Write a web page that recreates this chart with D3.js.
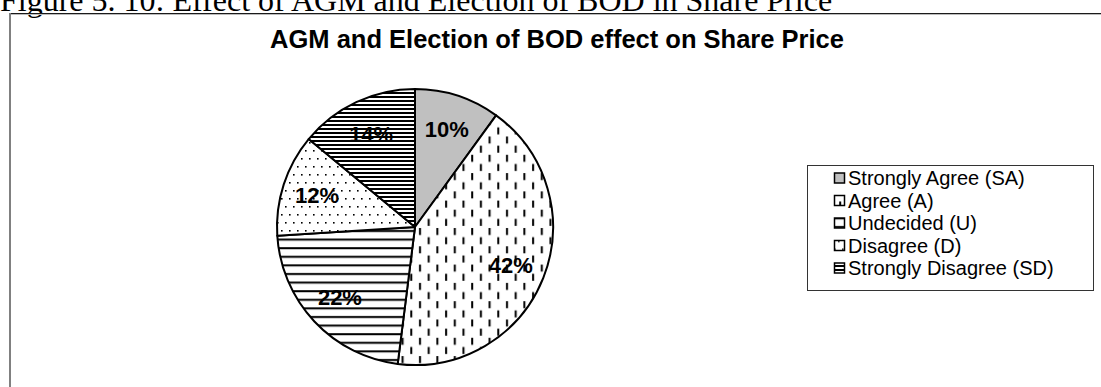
<!DOCTYPE html>
<html>
<head>
<meta charset="utf-8">
<script src="https://cdn.jsdelivr.net/npm/d3@7"></script>
<style>
  html, body { margin: 0; padding: 0; background: #fff; }
  svg { display: block; }
</style>
</head>
<body>
<svg id="chart" width="1101" height="387"></svg>
<script>
// Survey responses: AGM and Election of BOD effect on share price
const categories = ["Strongly Agree (SA)", "Agree (A)", "Undecided (U)", "Disagree (D)", "Strongly Disagree (SD)"];
const shares = [10, 42, 22, 12, 14];
const fills = ["url(#fillSA)", "url(#fillA)", "url(#fillU)", "url(#fillD)", "url(#fillSD)"];

const svg = d3.select("#chart");
const defs = svg.append("defs");

// Hatch fills for each response category
const pSA = defs.append("pattern").attr("id", "fillSA").attr("patternUnits", "userSpaceOnUse")
  .attr("width", 4).attr("height", 4);
pSA.append("rect").attr("width", 4).attr("height", 4).attr("fill", "#c0c0c0");

const pA = defs.append("pattern").attr("id", "fillA").attr("patternUnits", "userSpaceOnUse")
  .attr("width", 17.4).attr("height", 18.3);
pA.append("rect").attr("width", 17.4).attr("height", 18.3).attr("fill", "#fff");
pA.append("rect").attr("x", 4).attr("y", 1).attr("width", 2).attr("height", 7).attr("fill", "#000");
pA.append("rect").attr("x", 12.7).attr("y", 10.2).attr("width", 2).attr("height", 7).attr("fill", "#000");

const pU = defs.append("pattern").attr("id", "fillU").attr("patternUnits", "userSpaceOnUse")
  .attr("width", 8).attr("height", 8.6);
pU.append("rect").attr("width", 8).attr("height", 8.6).attr("fill", "#fff");
pU.append("rect").attr("y", 3).attr("width", 8).attr("height", 2).attr("fill", "#000");

const pD = defs.append("pattern").attr("id", "fillD").attr("patternUnits", "userSpaceOnUse")
  .attr("width", 16).attr("height", 16);
pD.append("rect").attr("width", 16).attr("height", 16).attr("fill", "#fff");
[[2, 3], [10, 3], [6, 11], [14, 11]].forEach(([x, y]) =>
  pD.append("rect").attr("x", x).attr("y", y).attr("width", 1.6).attr("height", 1.6).attr("fill", "#000"));

const pSD = defs.append("pattern").attr("id", "fillSD").attr("patternUnits", "userSpaceOnUse")
  .attr("width", 8).attr("height", 4);
pSD.append("rect").attr("width", 8).attr("height", 4).attr("fill", "#fff");
pSD.append("rect").attr("y", 1).attr("width", 8).attr("height", 2).attr("fill", "#000");

// Figure caption (sits above the chart frame)
svg.append("text")
  .attr("x", 0).attr("y", 11)
  .attr("font-family", "'Liberation Serif', 'Times New Roman', serif")
  .attr("font-size", 32)
  .attr("fill", "#000")
  .text("Figure 5. 10: Effect of AGM and Election of BOD in Share Price");

// Chart frame
svg.append("line").attr("x1", 10).attr("x2", 1101).attr("y1", 14.5).attr("y2", 14.5)
  .attr("stroke", "#bbb").attr("stroke-width", 1);
svg.append("line").attr("x1", 9).attr("x2", 1101).attr("y1", 13.5).attr("y2", 13.5)
  .attr("stroke", "#1a1a1a").attr("stroke-width", 1.2);
svg.append("line").attr("x1", 10).attr("x2", 10).attr("y1", 13).attr("y2", 387)
  .attr("stroke", "#808080").attr("stroke-width", 2);

// Chart title
svg.append("text")
  .attr("x", 557).attr("y", 48)
  .attr("text-anchor", "middle")
  .attr("font-family", "'Liberation Sans', Arial, sans-serif")
  .attr("font-weight", "bold")
  .attr("font-size", 25.5)
  .attr("fill", "#000")
  .text("AGM and Election of BOD effect on Share Price");

// Pie
const cx = 415, cy = 227, radius = 138;
const pie = d3.pie().sort(null).value(d => d.value);
const arcs = pie(categories.map((c, i) => ({ name: c, value: shares[i], fill: fills[i] })));
const arc = d3.arc().innerRadius(0).outerRadius(radius);
const labelArc = d3.arc().innerRadius(103).outerRadius(103);

const g = svg.append("g").attr("transform", `translate(${cx},${cy})`);
g.selectAll("path.slice").data(arcs).join("path")
  .attr("class", "slice")
  .attr("d", arc)
  .attr("fill", d => d.data.fill)
  .attr("stroke", "#000")
  .attr("stroke-width", 2)
  .attr("stroke-linejoin", "round");

g.selectAll("text.pct").data(arcs).join("text")
  .attr("class", "pct")
  .attr("transform", d => `translate(${labelArc.centroid(d)})`)
  .attr("text-anchor", "middle")
  .attr("dy", "0.36em")
  .attr("font-family", "'Liberation Sans', Arial, sans-serif")
  .attr("font-weight", "bold")
  .attr("font-size", 22)
  .attr("fill", "#000")
  .text(d => d.data.value + "%");

// Legend
const lx = 807, ly = 165, lw = 286, lh = 125;
svg.append("rect")
  .attr("x", lx + 0.5).attr("y", ly + 0.5).attr("width", lw).attr("height", lh)
  .attr("fill", "#fff").attr("stroke", "#333").attr("stroke-width", 1);

const rowY = d3.scalePoint().domain(categories).range([ly + 13, ly + 13 + 4 * 22.5]);
const items = svg.append("g").selectAll("g").data(arcs).join("g")
  .attr("transform", d => `translate(0,${rowY(d.data.name)})`);
items.append("rect")
  .attr("x", 834.5).attr("y", -5).attr("width", 10).attr("height", 10)
  .attr("fill", d => d.data.fill).attr("stroke", "#000").attr("stroke-width", 1.5);
items.append("text")
  .attr("x", 848).attr("y", 7.2)
  .attr("font-family", "'Liberation Sans', Arial, sans-serif")
  .attr("font-size", 20)
  .attr("fill", "#000")
  .text(d => d.data.name);
</script>
</body>
</html>
